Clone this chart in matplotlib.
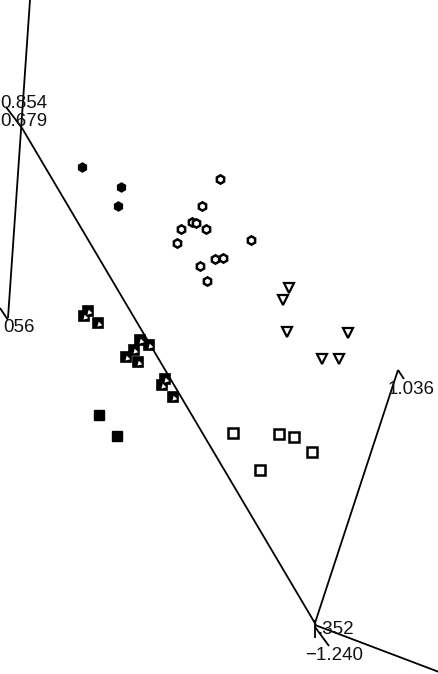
import matplotlib
matplotlib.use("Agg")
import matplotlib.pyplot as plt

plt.rcParams['font.family'] = ['Liberation Sans', 'DejaVu Sans']

# ---- data (screen-space coordinates) ----
filled_diamond_x = [82, 121, 118]
filled_diamond_y = [167, 187, 206]

open_diamond_x = [220, 202, 192, 196, 181, 206, 177, 251, 215, 223, 200, 207]
open_diamond_y = [179, 206, 222, 223, 229, 229, 243, 240, 259, 258, 266, 281]

tri_x = [289, 283, 287, 348, 322, 339]
tri_y = [288, 300, 332, 333, 359, 359]

open_sq_x = [233, 279, 294, 312, 260]
open_sq_y = [433, 434, 437, 452, 470]

filled_sq_x = [99, 117]
filled_sq_y = [415, 436]

half_sq_x = [84, 88, 98, 140, 149, 134, 126, 138, 165, 162, 173]
half_sq_y = [316, 311, 323, 340, 345, 350, 357, 362, 379, 385, 397]

# axis lines (start x, start y, end x, end y)
axis_x0 = [30, 0, 6, 22, 315, 398, 315, 315, 315]
axis_y0 = [0, 308, 107, 128, 623, 370, 625, 620, 627]
axis_x1 = [8, 8, 22, 316, 398, 404, 439, 315, 329]
axis_y1 = [318, 320, 128, 625, 370, 379, 672, 638, 646]

label_text = ["0.854", "0.679", "056", "1.036", ".352", "\u22121.240"]
label_x = [0, 0, 3, 388, 317, 305]
label_y = [103, 122, 327, 390, 629, 655]

fig = plt.figure(figsize=(4.39, 6.74), dpi=100)
ax = fig.add_axes([0, 0, 1, 1])
ax.set_xlim(0, 439)
ax.set_ylim(674, 0)
ax.axis('off')

for x0, y0, x1, y1 in zip(axis_x0, axis_y0, axis_x1, axis_y1):
    ax.plot([x0, x1], [y0, y1], color='black', lw=1.3, solid_capstyle='butt')

ax.plot(filled_diamond_x, filled_diamond_y, 'h', ms=6.5, color='black')
ax.plot(open_diamond_x, open_diamond_y, 'h', ms=6, mfc='white', mec='black', mew=1.8)
ax.plot(tri_x, tri_y, 'v', ms=7, mfc='white', mec='black', mew=1.6)
ax.plot(open_sq_x, open_sq_y, 's', ms=6.5, mfc='white', mec='black', mew=1.8)
ax.plot(filled_sq_x, filled_sq_y, 's', ms=7.5, color='black')
ax.plot(half_sq_x, half_sq_y, 's', ms=7.5, mfc='black', mec='black', mew=1.2)
ax.plot([x + 1 for x in half_sq_x], [y + 0.5 for y in half_sq_y], marker=(3, 0, 135),
        ls='none', ms=4.2, mfc='white', mec='white', mew=0)

for t, x, y in zip(label_text, label_x, label_y):
    ax.text(x, y, t, fontsize=13.5, ha='left', va='center', color='#111111')

fig.savefig("out.png", dpi=100, facecolor='white')
